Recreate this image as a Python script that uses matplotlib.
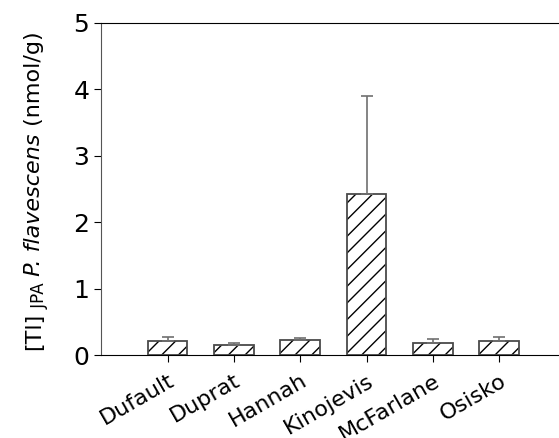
import matplotlib
matplotlib.use("Agg")
import matplotlib.pyplot as plt
import numpy as np

plt.rcParams['font.family'] = ['DejaVu Sans']
plt.rcParams['hatch.linewidth'] = 1.0

sites = ["Dufault", "Duprat", "Hannah", "Kinojevis", "McFarlane", "Osisko"]
tl_mean = [0.21, 0.15, 0.23, 2.42, 0.18, 0.21]
tl_err = [0.06, 0.03, 0.03, 1.48, 0.06, 0.06]

fig = plt.figure(figsize=(5.59, 4.38), dpi=100)
ax = fig.add_axes([0.181, 0.189, 0.819, 0.759])

x = np.arange(len(sites))
# hatch in black, outline in grey
ax.bar(x, tl_mean, width=0.6, color="white", edgecolor="black",
       hatch="//", linewidth=0, zorder=2)
ax.bar(x, tl_mean, width=0.6, fill=False, edgecolor="#4a4a4a",
       linewidth=1.3, zorder=2.5)
ax.errorbar(x, tl_mean, yerr=[np.zeros(len(sites)), tl_err], fmt="none",
            ecolor="#707070", elinewidth=1.2, capsize=4, capthick=1.2, zorder=3)

ax.set_xlim(-1.0, 5.9)
ax.set_ylim(0, 5)
ax.set_yticks([0, 1, 2, 3, 4, 5])
ax.set_xticks(x)
ax.set_xticklabels(sites, rotation=30, ha="right", rotation_mode="anchor")
ax.tick_params(axis="both", direction="out", labelsize=18, length=5)
ax.tick_params(axis="x", labelsize=16, pad=6)
ax.spines["right"].set_visible(False)
ax.spines["left"].set_color("#555555")

# y label built from pieces: [Tl] + subscript JPA + italic species + unit
kw = dict(rotation=90, rotation_mode="anchor", ha="left", va="baseline")
x0 = 0.072
t1 = fig.text(x0, 0.20, "[Tl]", fontsize=16, **kw)
t2 = ax.annotate(" JPA", xy=(x0, 1.0), xycoords=("figure fraction", t1),
                 xytext=(3, 0), textcoords="offset points", fontsize=12, **kw)
t3 = ax.annotate(" P. flavescens", xy=(x0, 1.0), xycoords=("figure fraction", t2),
                 fontsize=16, style="italic", annotation_clip=False, **kw)
t4 = ax.annotate(" (nmol/g)", xy=(x0, 1.0), xycoords=("figure fraction", t3),
                 fontsize=16, annotation_clip=False, **kw)

fig.savefig("out.png", dpi=100)
